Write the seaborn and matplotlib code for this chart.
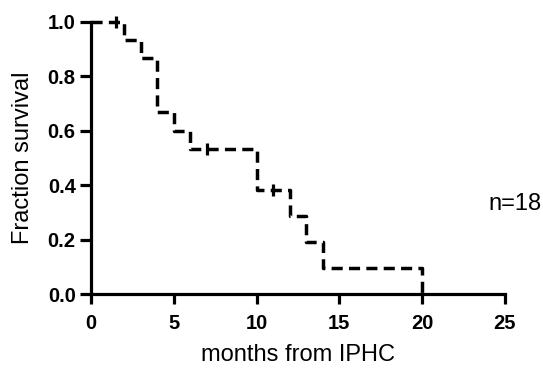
import numpy as np
import matplotlib
matplotlib.use('Agg')
import matplotlib.pyplot as plt
import seaborn as sns
import pandas as pd

sns.set_style('ticks')
plt.rcParams['font.family'] = ['Liberation Sans', 'DejaVu Sans']
plt.rcParams['text.color'] = 'k'
plt.rcParams['axes.labelcolor'] = 'k'
plt.rcParams['axes.edgecolor'] = 'k'
plt.rcParams['xtick.color'] = 'k'
plt.rcParams['ytick.color'] = 'k'
plt.rcParams['axes.linewidth'] = 2.3
plt.rcParams['xtick.major.width'] = 2.3
plt.rcParams['ytick.major.width'] = 2.3
plt.rcParams['xtick.major.size'] = 7.5
plt.rcParams['ytick.major.size'] = 8
plt.rcParams['xtick.major.pad'] = 7
plt.rcParams['ytick.major.pad'] = 3

# Kaplan-Meier steps
months = [0, 2, 3, 4, 5, 6, 10, 12, 13, 14, 20]
surv = [1.0, 0.933, 0.867, 0.667, 0.600, 0.533, 0.381, 0.286, 0.190, 0.095, 0.0]
# censored observations
cens_months = [1.5, 7, 11]
cens_surv = [1.0, 0.533, 0.381]

df = pd.DataFrame({'months': months, 'surv': surv})
dfc = pd.DataFrame({'months': cens_months, 'surv': cens_surv})

fig = plt.figure(figsize=(5.43, 3.68), dpi=100)
ax = fig.add_axes([0.1676, 0.201, 0.7624, 0.740])

sns.lineplot(data=df, x='months', y='surv', drawstyle='steps-post', color='k',
             lw=2.5, linestyle=(0, (3.2, 1.8)), clip_on=False, ax=ax)
sns.scatterplot(data=dfc, x='months', y='surv', marker='|', s=70, color='k',
                linewidth=2.3, clip_on=False, ax=ax, zorder=3)

ax.set_xlim(0, 25)
ax.set_ylim(0, 1.0)
ax.set_xticks([0, 5, 10, 15, 20, 25])
ax.set_yticks([0.0, 0.2, 0.4, 0.6, 0.8, 1.0])
ax.set_yticklabels(['0.0', '0.2', '0.4', '0.6', '0.8', '1.0'])
for lab in ax.get_xticklabels() + ax.get_yticklabels():
    lab.set_fontweight('bold')
    lab.set_fontsize(14.5)
ax.set_xlabel('months from IPHC', fontsize=17, labelpad=8)
ax.set_ylabel('Fraction survival', fontsize=17, labelpad=10)

fig.text(0.997, 0.445, 'n=18', ha='right', va='center', fontsize=17)

sns.despine(ax=ax)
fig.savefig('out.png', dpi=100)
